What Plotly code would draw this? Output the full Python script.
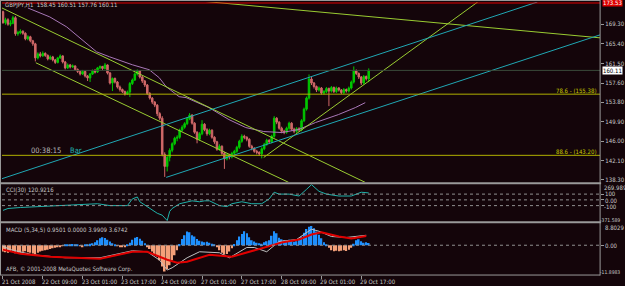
import plotly.graph_objects as go

# ---------------- DATA ----------------
closes = [169.6,170.2,169.3,169.5,170.6,167.4,167.6,167.9,167.5,166.4,
          166.8,166.0,165.4,162.6,163.4,163.0,163.5,163.1,162.4,162.8,
          162.2,161.7,162.6,163.0,161.8,160.6,161.2,160.8,161.0,160.3,
          159.9,159.4,159.9,159.0,158.6,159.4,160.0,159.8,160.6,160.9,
          160.5,161.2,159.6,157.6,158.5,157.8,156.8,156.3,155.9,155.4,
          155.8,157.5,158.2,159.4,160.0,158.8,158.0,157.2,155.5,154.6,
          153.8,153.2,151.5,150.6,143.4,141.0,142.8,144.2,145.5,146.6,
          146.8,148.2,148.8,149.5,150.5,151.2,149.6,147.8,146.4,147.5,
          149.4,148.3,147.5,148.2,146.8,145.9,144.4,145.0,143.6,142.5,
          143.3,142.9,143.6,144.0,144.8,146.0,147.0,146.8,146.4,145.0,
          144.6,144.0,143.8,143.5,144.5,145.4,146.2,145.9,147.0,150.6,
          149.8,148.6,148.0,147.8,148.6,149.6,148.4,148.0,148.5,148.3,
          150.1,152.4,154.6,158.4,157.6,156.9,156.2,156.6,155.6,155.9,
          156.5,156.0,156.7,155.9,156.6,156.2,155.7,156.3,156.0,156.6,
          157.8,160.0,159.5,158.8,157.6,158.9,158.45,160.11]
first_open = 171.8
highs = [172.0,170.6,170.5,170.1,171.0,170.9,168.0,168.3,168.1,167.7,
         167.1,167.0,166.2,165.6,163.7,163.8,163.9,163.7,163.3,163.1,
         163.0,162.4,162.8,163.3,163.1,162.0,161.5,161.4,161.3,161.1,
         160.5,160.1,160.2,160.0,159.2,159.6,160.3,160.4,160.8,161.1,
         161.0,161.6,161.3,159.8,158.7,158.7,158.0,157.1,156.5,156.1,
         156.1,157.8,158.5,159.7,160.3,160.1,159.0,158.2,157.4,155.8,
         154.8,154.0,153.4,151.8,151.0,143.8,143.2,144.6,145.8,146.9,
         147.2,148.5,149.2,149.8,150.8,151.6,151.4,149.8,148.0,147.8,
         150.2,149.6,148.6,148.5,148.4,147.0,146.1,145.4,145.2,143.9,
         143.6,143.5,143.9,144.3,145.1,146.3,147.4,147.3,147.0,146.6,
         145.3,144.8,144.3,144.0,144.8,145.7,146.5,146.4,147.3,151.0,
         150.8,150.0,148.9,148.3,148.9,149.9,149.8,148.7,148.8,148.8,
         150.4,152.7,154.9,159.3,158.8,157.8,157.1,156.9,156.8,156.2,
         156.8,156.7,157.0,156.9,156.9,156.8,156.4,156.6,156.5,156.9,
         158.1,160.9,160.3,159.7,159.0,159.2,159.1,160.51]
lows = [169.4,169.2,169.0,168.9,169.3,167.0,167.0,167.3,167.2,166.1,
        166.1,165.7,165.0,161.9,162.3,162.7,162.8,162.8,162.1,162.2,
        161.9,161.4,161.5,162.4,161.5,160.3,160.4,160.5,160.6,160.0,
        159.6,159.1,159.2,158.7,158.0,157.8,159.2,159.5,159.6,160.3,
        160.2,160.3,159.3,157.3,156.0,157.5,156.5,155.9,155.6,155.1,
        155.2,154.8,157.2,158.0,159.1,158.5,157.6,156.8,155.2,154.3,
        153.4,152.8,151.0,150.2,143.0,138.9,140.0,142.0,143.8,145.2,
        146.0,146.5,147.9,148.5,149.2,150.2,149.3,147.5,145.6,146.1,
        147.2,148.0,147.1,147.2,146.5,145.5,144.1,144.1,143.2,140.5,
        142.2,142.4,142.6,143.3,143.7,144.5,145.7,146.4,146.0,144.7,
        144.2,143.7,143.4,143.1,142.6,144.2,145.1,145.5,145.6,146.7,
        149.4,148.3,147.6,147.4,147.5,148.3,148.1,147.6,147.7,147.9,
        148.0,149.8,152.1,154.3,157.2,156.5,155.8,155.9,155.3,155.3,
        155.6,153.0,155.7,155.6,155.6,155.9,155.4,155.4,155.7,155.7,
        156.3,157.5,159.2,158.4,157.2,157.3,158.1,157.76]

# moving average (purple): bar index, price
ma_bar = [10,18.8,25.6,37.6,42.8,52,58.8,62.8,65.6,70.8,73.6,82.8,90.8,97.6,104.8,112,118.8,125.6,134.8,141.6,145.6]
ma_val = [172.54,170.76,168.77,163.81,162.82,161.23,160.24,158.65,156.87,154.88,154.69,152.70,150.32,148.73,147.94,147.74,148.34,149.73,151.31,152.70,153.69]

# trend lines: (bar0, price0, bar1, price1)
tl_green = [(-0.4,172.54,145.6,137.82),(13.2,161.63,114.8,137.82),
            (74.8,174.13,240,166.59),(104.8,142.78,190.8,173.73)]
tl_cyan = [(-1.2,138.42,214.8,173.73),(65.6,138.81,240,167.19)]

fib_levels = [155.38, 143.20]
fib_labels = ["78.6 - (155.38)", "88.6 - (143.20)"]
last_price = 160.11
top_red_price = 173.53
price_ticks = [169.30,165.40,161.50,157.60,153.80,149.90,146.00,142.10,138.30]

# CCI(30)
cci_bar = [0,2,7,15,26,34,38,43,50,52,54,55,58,60,62,64,66,67,68,71,74,76,79,81,83,87,90,92,96,100,104,107,109,111,115,119,122,124,127,130,135,140,144,147]
cci_val = [-183,-150,-133,-117,-100,-83,-67,-100,-100,17,50,-33,-117,-183,-233,-267,-360,-200,-150,-67,-33,-17,-33,-17,-17,-100,-117,-67,-33,-67,-67,17,133,100,100,67,183,265,150,100,67,67,133,121]
cci_levels = [100, 0, -100]
cci_range = [-371.589, 269.989]

# MACD(5,34,5)
macd_hist = [-2.5,-2.8,-3.0,-2.6,-2.2,-3.2,-3.5,-3.0,-2.6,-2.4,-2.8,-3.0,-3.3,-3.6,-3.0,-2.5,-2.2,-2.0,-1.8,-1.5,
             -1.2,-1.0,-0.8,-0.6,-0.3,0.2,0.4,0.3,0.5,0.3,0.2,-0.2,-0.4,0.2,0.4,0.6,0.8,1.2,
             2.0,2.8,3.2,2.9,2.2,1.5,
             0.8,0.4,-0.3,-0.6,-0.8,-0.5,0.3,1.0,
             2.2,3.0,3.3,2.6,1.8,0.8,
             -0.5,-1.5,-2.5,-3.5,-4.5,-6.0,-8.5,-10.5,-9.5,-8.0,-6.0,-4.0,-2.0,
             0.5,2.5,4.0,5.5,5.2,4.0,3.5,2.5,
             1.8,1.5,1.2,1.4,1.0,0.6,0.2,
             -0.8,-2.0,-3.0,-3.7,-3.5,-2.5,-1.2,
             0.5,2.0,3.5,4.5,5.6,4.8,3.2,2.0,
             1.5,1.0,0.8,0.6,1.2,1.6,2.0,
             3.8,5.6,4.8,3.0,
             2.4,2.0,1.8,2.2,1.8,1.4,1.6,2.2,
             3.5,5.0,6.5,7.4,7.7,6.8,5.5,4.2,2.8,
             1.2,0.4,
             -1.0,-2.0,-2.4,-2.2,-2.4,-2.2,-2.0,-2.3,-1.8,-1.0,
             0.6,2.0,2.4,1.6,1.0,1.2,0.95]
grey_bar = [0,3,12,25,39,52,58,63,66,68,74,79,87,91,98,101,106,111,118,124,127,132,138,142,144,146]
grey_val = [-0.4,-1.75,-3.8,-5.0,-5.0,-2.2,-2.6,-6.0,-9.9,-9.0,-5.0,-2.6,-3.0,-5.0,-0.9,-0.9,-2.6,1.5,2.3,6.4,5.6,3.5,3.1,3.5,3.9,3.99]
red_bar = [0,7,19,39,52,58,66,70,74,83,92,99,106,112,119,124,128,135,140,146]
red_val = [-1.75,-3.4,-4.6,-5.4,-2.6,-2.6,-5.8,-7.0,-6.6,-3.8,-4.6,-2.6,-0.9,1.1,2.3,4.3,5.2,3.5,2.7,3.67]
macd_range = [-11.8983, 8.8029]

time_bars = [0,16,32,48,64,80,96,112,128,144]
time_labels = ["21 Oct 2008","22 Oct 09:00","23 Oct 01:00","23 Oct 17:00","24 Oct 09:00",
               "27 Oct 01:00","27 Oct 17:00","28 Oct 09:00","29 Oct 01:00","29 Oct 17:00"]

# ---------------- STYLE / LAYOUT ----------------
W, H = 625, 286
BG = "#14050a"
FONT = "Liberation Sans Narrow, Arial Narrow, DejaVu Sans Condensed, Liberation Sans, Arial, sans-serif"
TXT = "#c8c8c8"
FS = 6
def fx(px): return px / W
def fy(py): return 1 - py / H

XD = [fx(2), fx(603)]
bars = list(range(len(closes)))
opens = [first_open] + closes[:-1]

fig = go.Figure()

fig.add_trace(go.Candlestick(
    x=bars, open=opens, high=highs, low=lows, close=closes,
    xaxis="x", yaxis="y", whiskerwidth=0,
    increasing=dict(line=dict(color="#00c800", width=1), fillcolor="#00c800"),
    decreasing=dict(line=dict(color="#d06868", width=1), fillcolor="#d06868"),
    showlegend=False, hoverinfo="skip"))

fig.add_trace(go.Scatter(x=ma_bar, y=ma_val, mode="lines", line=dict(color="#a878b8", width=1),
                         xaxis="x", yaxis="y", showlegend=False, hoverinfo="skip"))

for (b0, p0, b1, p1) in tl_green:
    fig.add_trace(go.Scatter(x=[b0, b1], y=[p0, p1], mode="lines",
                             line=dict(color="#9acd32", width=1), xaxis="x", yaxis="y",
                             showlegend=False, hoverinfo="skip"))
for (b0, p0, b1, p1) in tl_cyan:
    fig.add_trace(go.Scatter(x=[b0, b1], y=[p0, p1], mode="lines",
                             line=dict(color="#20a8b4", width=1), xaxis="x", yaxis="y",
                             showlegend=False, hoverinfo="skip"))

# CCI
fig.add_trace(go.Scatter(x=cci_bar, y=cci_val, mode="lines", line=dict(color="#20b2aa", width=1),
                         xaxis="x2", yaxis="y2", showlegend=False, hoverinfo="skip"))

# MACD
hist_colors = ["#1e90ff" if v >= 0 else "#f4a07a" for v in macd_hist]
fig.add_trace(go.Bar(x=bars, y=macd_hist, marker=dict(color=hist_colors, line=dict(width=0)),
                     xaxis="x3", yaxis="y3", showlegend=False, hoverinfo="skip"))
fig.add_trace(go.Scatter(x=grey_bar, y=grey_val, mode="lines", line=dict(color="#c0c0c0", width=1),
                         xaxis="x3", yaxis="y3", showlegend=False, hoverinfo="skip"))
fig.add_trace(go.Scatter(x=red_bar, y=red_val, mode="lines", line=dict(color="#e00000", width=2),
                         xaxis="x3", yaxis="y3", showlegend=False, hoverinfo="skip"))

shapes = []
for lv in fib_levels:
    shapes.append(dict(type="line", xref="paper", yref="y", x0=XD[0], x1=XD[1], y0=lv, y1=lv,
                       line=dict(color="#b0b000", width=1)))
shapes.append(dict(type="line", xref="paper", yref="y", x0=XD[0], x1=XD[1], y0=last_price, y1=last_price,
                   line=dict(color="#3a4a3a", width=1)))
shapes.append(dict(type="line", xref="paper", yref="y", x0=XD[0], x1=XD[1], y0=top_red_price, y1=top_red_price,
                   line=dict(color="#e00000", width=1)))
for lv in cci_levels:
    shapes.append(dict(type="line", xref="paper", yref="y2", x0=XD[0], x1=XD[1], y0=lv, y1=lv,
                       line=dict(color="#909090", width=1, dash="dot")))
shapes.append(dict(type="line", xref="paper", yref="y3", x0=XD[0], x1=XD[1], y0=0, y1=0,
                   line=dict(color="#909090", width=1, dash="dot")))
for (a, b) in [(183, 185), (222, 224)]:
    shapes.append(dict(type="rect", xref="paper", yref="paper", x0=0, x1=fx(604), y0=fy(b), y1=fy(a),
                       fillcolor="#9a9a9a", line=dict(width=0)))
shapes.append(dict(type="line", xref="paper", yref="paper", x0=fx(0.5), x1=fx(0.5), y0=fy(276), y1=fy(0),
                   line=dict(color="#9a9a9a", width=1)))
shapes.append(dict(type="line", xref="paper", yref="paper", x0=fx(603), x1=fx(603), y0=fy(276.5), y1=fy(0),
                   line=dict(color="#9a9a9a", width=1)))
shapes.append(dict(type="line", xref="paper", yref="paper", x0=0, x1=fx(603), y0=fy(276), y1=fy(276),
                   line=dict(color="#9a9a9a", width=1)))
shapes.append(dict(type="line", xref="paper", yref="paper", x0=0, x1=fx(603), y0=fy(0.5), y1=fy(0.5),
                   line=dict(color="#9a9a9a", width=1)))

ann = []
def A(x, y, text, color=TXT, size=FS, xanchor="left", xref="paper", yref="paper", **kw):
    ann.append(dict(x=x, y=y, text=text, xref=xref, yref=yref, xanchor=xanchor, yanchor="middle",
                    showarrow=False, font=dict(family=FONT, size=size, color=color), **kw))

A(fx(3), fy(5.5), "GBPJPY,H1  158.45 160.51 157.76 160.11")
A(fx(29), fy(151), "00:38:15", color="#b8b8b8", size=7.5)
A(fx(68), fy(151), "Bar", color="#20b2aa", size=7.5)
for lv, lab in zip(fib_levels, fib_labels):
    A(fx(602), lv, lab, color="#c8c800", xanchor="right", yref="y", yshift=4)
A(fx(4), fy(190), "CCI(30) 120.9216")
A(fx(4), fy(230), "MACD (5,34,5) 0.9501 0.0000 3.9909 3.6742")
A(fx(4), fy(270), "AFB, © 2001-2008 MetaQuotes Software Corp.")
for b, lab in zip(time_bars, time_labels):
    A(b, fy(282.5), lab, xref="x", xshift=-3)
A(fx(604.5), last_price, "160.11", color="#000000", yref="y", bgcolor="#ffffff", borderpad=0)
A(fx(604.5), top_red_price, "173.53", color="#ffffff", yref="y", bgcolor="#e00000", borderpad=0)
A(fx(604.5), fy(188.5), "269.989")
A(fx(606), fy(194.5), "100")
A(fx(606), fy(201), "0.00")
A(fx(604.5), fy(207.5), "-100")
A(fx(624.8), fy(221), "-371.589", size=5, xanchor="right")
A(fx(606), fy(228.5), "8.8029")
A(fx(606), fy(246), "0.00")
A(fx(624.8), fy(272.5), "-11.8983", size=5, xanchor="right")

axis_common = dict(showgrid=False, zeroline=False, showline=False)
fig.update_layout(
    width=W, height=H, margin=dict(l=0, r=0, t=0, b=0),
    paper_bgcolor=BG, plot_bgcolor=BG, bargap=0.35, boxgap=0.12,
    font=dict(family=FONT, size=FS, color=TXT),
    xaxis=dict(domain=XD, range=[-0.4, 240], anchor="y", showticklabels=False,
               rangeslider=dict(visible=False), **axis_common),
    xaxis2=dict(domain=XD, matches="x", anchor="y2", showticklabels=False, **axis_common),
    xaxis3=dict(domain=XD, matches="x", anchor="y3", showticklabels=False, ticks="outside",
                tickvals=time_bars, ticklen=3, tickcolor="#9a9a9a", **axis_common),
    yaxis=dict(domain=[fy(183), fy(2)], range=[137.82, 173.73], side="right", anchor="x",
               tickvals=price_ticks, ticktext=[f"{v:.2f}" for v in price_ticks],
               ticks="outside", ticklen=3, tickcolor="#9a9a9a",
               tickfont=dict(family=FONT, size=FS, color=TXT), **axis_common),
    yaxis2=dict(domain=[fy(222), fy(185)], range=cci_range, side="right", anchor="x2",
                showticklabels=False, ticks="outside", tickvals=cci_levels, ticklen=3,
                tickcolor="#9a9a9a", **axis_common),
    yaxis3=dict(domain=[fy(276), fy(224)], range=macd_range, side="right", anchor="x3",
                showticklabels=False, ticks="outside", tickvals=[0], ticklen=3,
                tickcolor="#9a9a9a", **axis_common),
    shapes=shapes, annotations=ann,
)

fig.write_html("out.html")
